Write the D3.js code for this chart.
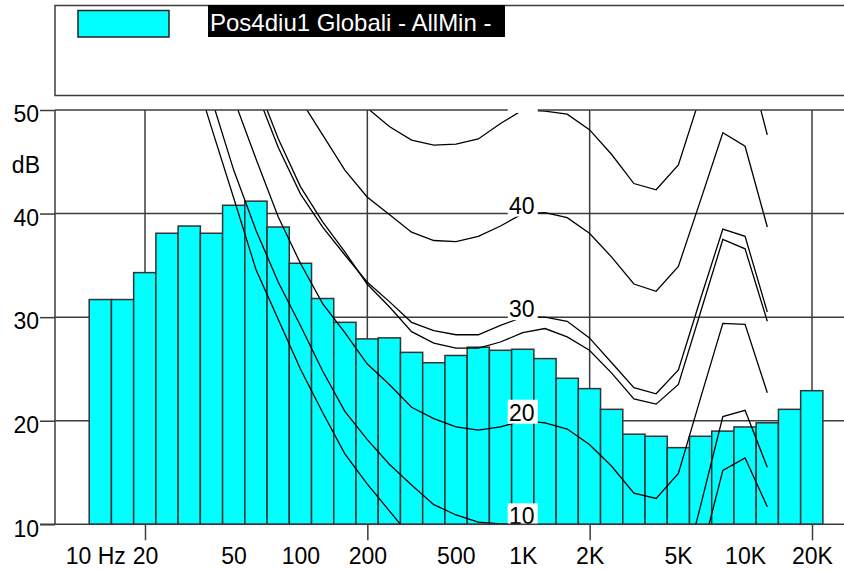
<!DOCTYPE html>
<html>
<head>
<meta charset="utf-8">
<script src="https://cdn.jsdelivr.net/npm/d3@7"></script>
<style>
  body { margin: 0; background: #fff; }
  svg { display: block; font-family: "Liberation Sans", Arial, sans-serif; }
</style>
</head>
<body>
<svg id="chart"></svg>
<script>
const width = 844, height = 571;

// third-octave band spectrum (dB)
const bandFreqs = [12.5, 16, 20, 25, 31.5, 40, 50, 63, 80, 100, 125, 160, 200, 250, 315, 400, 500, 630, 800,
  1000, 1250, 1600, 2000, 2500, 3150, 4000, 5000, 6300, 8000, 10000, 12500, 16000, 20000];
const bandLevels = [31.7, 31.7, 34.3, 38.1, 38.8, 38.1, 40.8, 41.2, 38.7, 35.2, 31.8, 29.5, 27.9, 28.0, 26.6, 25.6, 26.3, 27.1, 26.8,
  26.9, 26.0, 24.1, 23.1, 21.1, 18.7, 18.5, 17.4, 18.5, 19.0, 19.4, 19.8, 21.1, 22.9];

// equal loudness contours (dB at each third-octave point)
const contourFreqs = [20, 25, 31.5, 40, 50, 63, 80, 100, 125, 160, 200, 250, 315, 400, 500, 630, 800,
  1000, 1250, 1600, 2000, 2500, 3150, 4000, 5000, 6300, 8000, 10000, 12500];
const threshold = [72, 65, 55.2, 48.3, 41.5, 34.6, 29.8, 25.0, 20.8, 16.8, 13.9, 11.3, 8.7, 6.5, 5, 4, 3.5,
  3.5, 3, 1.5, 0, -1, -2.5, -3, -1, 6.8, 15.2, 16.4, 11.7];
const phon10 = [78, 68, 58.1, 51.1, 44.2, 38.4, 33.4, 29.2, 24.8, 20.9, 18.2, 15.8, 13.8, 11.9, 10.9, 10.2, 10.05,
  10, 9.5, 8.5, 7, 4.5, 2, 1.5, 3.5, 11.8, 20.4, 21.0, 15.5];
const phon20 = [80, 72, 64, 56.8, 51.1, 45.3, 39.7, 35.2, 31.3, 28.5, 25.5, 23.5, 21.3, 20.2, 19.4, 19.1, 19.4,
  20, 19.8, 19.2, 17.7, 15.6, 13.0, 12.5, 14.9, 22.2, 29.4, 29.3, 22.7];
const phon30 = [90, 82, 74, 67, 60, 51.9, 46.4, 41.9, 38.7, 36.0, 33.4, 31.5, 29.5, 28.7, 28.3, 28.3, 29.2,
  30, 30.0, 29.6, 28.0, 25.6, 23.2, 22.6, 24.9, 31.8, 38.5, 37.8, 30.5];
const phon30b = [90, 82, 74, 67, 60, 52.75, 47.25, 42.6, 39.2, 36.3, 33.2, 31.0, 28.6, 27.5, 27.0, 27.0, 27.6,
  28.5, 28.9, 28.1, 26.8, 24.6, 22.1, 21.6, 23.5, 30.5, 37.5, 36.6, 29.6];
const phon40 = [95, 88, 80, 73, 67, 61, 56, 51.0, 47.6, 44.2, 41.6, 39.9, 38.2, 37.4, 37.3, 37.8, 38.8,
  40, 40.1, 39.6, 38.1, 35.8, 33.2, 32.5, 34.9, 41.3, 47.8, 46.5, 38.7];
const phon50 = [110, 103, 96, 89, 82, 76, 70, 65, 60, 54, 50.2, 48.4, 47.1, 46.6, 46.7, 47.2, 48.7,
  50, 49.9, 49.6, 48.1, 45.7, 42.9, 42.3, 44.7, 51.4, 57, 55.8, 47.6];
const contourLabels = [10, 20, 30, 40, 50];

const xTickFreqs = [10, 20, 50, 100, 200, 500, 1000, 2000, 5000, 10000, 20000];
const xTickLabels = ["10 Hz", "20", "50", "100", "200", "500", "1K", "2K", "5K", "10K", "20K"];
const gridFreqs = [20, 200, 2000, 20000];
const yTicks = [10, 20, 30, 40, 50];
const legendLabel = "Pos4diu1 Globali - AllMin -";

const gridColor = "#3c3c3c";
const barColor = "#00ffff";

const svg = d3.select("#chart").attr("width", width).attr("height", height);

const plotLeft = 55, plotRight = 900, plotTop = 110, plotBottom = 524.3;
const x = d3.scaleLog().domain([20, 20000]).range([145, 812]);
const y = d3.scaleLinear().domain([10, 50]).range([plotBottom, plotTop]);

// snap nominal band frequency to exact base-10 third-octave value
const exactF = f => Math.pow(10, Math.round(Math.log10(f) * 10) / 10);
const halfBand = Math.pow(10, 0.05);

// legend
svg.append("rect")
  .attr("x", 55).attr("y", 5.5).attr("width", 900).attr("height", 90)
  .attr("fill", "none").attr("stroke", gridColor).attr("stroke-width", 1.5);
svg.append("rect")
  .attr("x", 78).attr("y", 10.5).attr("width", 91).attr("height", 26.5)
  .attr("fill", barColor).attr("stroke", "#222").attr("stroke-width", 1.5);
svg.append("rect")
  .attr("x", 208).attr("y", 5).attr("width", 297).attr("height", 32)
  .attr("fill", "#000");
svg.append("text")
  .attr("x", 210).attr("y", 31)
  .attr("fill", "#fff").attr("font-size", 24)
  .text(legendLabel);

// grid
svg.append("g").selectAll("line").data([20, 30, 40]).join("line")
  .attr("x1", plotLeft).attr("x2", plotRight)
  .attr("y1", d => y(d)).attr("y2", d => y(d))
  .attr("stroke", gridColor).attr("stroke-width", 1.5);
svg.append("g").selectAll("line").data(gridFreqs).join("line")
  .attr("x1", d => x(d)).attr("x2", d => x(d))
  .attr("y1", plotTop).attr("y2", plotBottom)
  .attr("stroke", gridColor).attr("stroke-width", 1.5);

// bars
svg.append("g").selectAll("rect").data(bandFreqs).join("rect")
  .attr("x", d => x(exactF(d) / halfBand))
  .attr("width", d => x(exactF(d) * halfBand) - x(exactF(d) / halfBand))
  .attr("y", (d, i) => y(bandLevels[i]))
  .attr("height", (d, i) => plotBottom - y(bandLevels[i]))
  .attr("fill", barColor).attr("stroke", "#333").attr("stroke-width", 1.5);

// contours
svg.append("clipPath").attr("id", "plotClip")
  .append("rect").attr("x", plotLeft).attr("y", plotTop)
  .attr("width", plotRight - plotLeft).attr("height", plotBottom - plotTop);
svg.append("clipPath").attr("id", "labelClip")
  .append("rect").attr("x", plotLeft).attr("y", plotTop - 1)
  .attr("width", plotRight - plotLeft).attr("height", plotBottom - plotTop + 1);
svg.append("clipPath").attr("id", "textClip")
  .append("rect").attr("x", plotLeft).attr("y", plotTop + 1)
  .attr("width", plotRight - plotLeft).attr("height", plotBottom - plotTop + 10);

const line = d3.line()
  .x((d, i) => x(exactF(contourFreqs[i])))
  .y(d => y(d));
const curves = [threshold, phon10, phon20, phon30, phon30b, phon40, phon50];
svg.append("g").attr("clip-path", "url(#plotClip)")
  .selectAll("path").data(curves).join("path")
  .attr("d", line)
  .attr("fill", "none").attr("stroke", "#000").attr("stroke-width", 1.3);

// frame
svg.append("line").attr("x1", plotLeft).attr("x2", plotRight).attr("y1", plotTop).attr("y2", plotTop)
  .attr("stroke", gridColor).attr("stroke-width", 1.5);
svg.append("line").attr("x1", plotLeft).attr("x2", plotLeft).attr("y1", plotTop).attr("y2", plotBottom)
  .attr("stroke", gridColor).attr("stroke-width", 1.5);

// contour labels: white boxes, then text clipped so the top one stays hidden
svg.append("g").attr("clip-path", "url(#labelClip)")
  .selectAll("rect").data(contourLabels).join("rect")
  .attr("x", x(1000) - 15).attr("y", d => y(d) - 21)
  .attr("width", 30).attr("height", 24)
  .attr("fill", "#fff");
svg.append("g").attr("clip-path", "url(#textClip)")
  .selectAll("text").data(contourLabels).join("text")
  .attr("x", x(1000) - 1).attr("y", d => y(d))
  .attr("text-anchor", "middle").attr("font-size", 23)
  .text(d => d);

// axes
const yAxis = svg.append("g")
  .attr("transform", `translate(${plotLeft},0)`)
  .style("color", gridColor)
  .call(d3.axisLeft(y).tickValues(yTicks).tickSize(15).tickPadding(1));
yAxis.select(".domain").remove();
yAxis.selectAll("line").attr("stroke-width", 1.5);
yAxis.selectAll("text")
  .attr("font-size", 23).attr("font-family", null).attr("fill", "#000").attr("dy", "0.51em");

svg.append("text")
  .attr("x", 40).attr("y", 173)
  .attr("text-anchor", "end").attr("font-size", 23)
  .text("dB");

const xAxis = svg.append("g")
  .attr("transform", `translate(0,${plotBottom})`)
  .call(d3.axisBottom(x).tickValues(xTickFreqs).tickFormat((d, i) => xTickLabels[i]).tickSize(0).tickPadding(23));
xAxis.select(".domain").remove();
xAxis.selectAll("text")
  .attr("font-size", 23).attr("font-family", null).attr("fill", "#000")
  .filter(d => d === 10)
  .attr("text-anchor", "start").attr("dx", -12.8);

const xTicks = svg.append("g")
  .attr("transform", `translate(0,${plotBottom})`)
  .style("color", gridColor)
  .call(d3.axisBottom(x).tickValues(gridFreqs).tickSize(16).tickFormat(""));
xTicks.select(".domain").remove();
xTicks.selectAll("line").attr("stroke-width", 1.5);

// bottom axis line over bars
svg.append("line").attr("x1", 40).attr("x2", plotRight).attr("y1", plotBottom).attr("y2", plotBottom)
  .attr("stroke", gridColor).attr("stroke-width", 1.5);
</script>
</body>
</html>
